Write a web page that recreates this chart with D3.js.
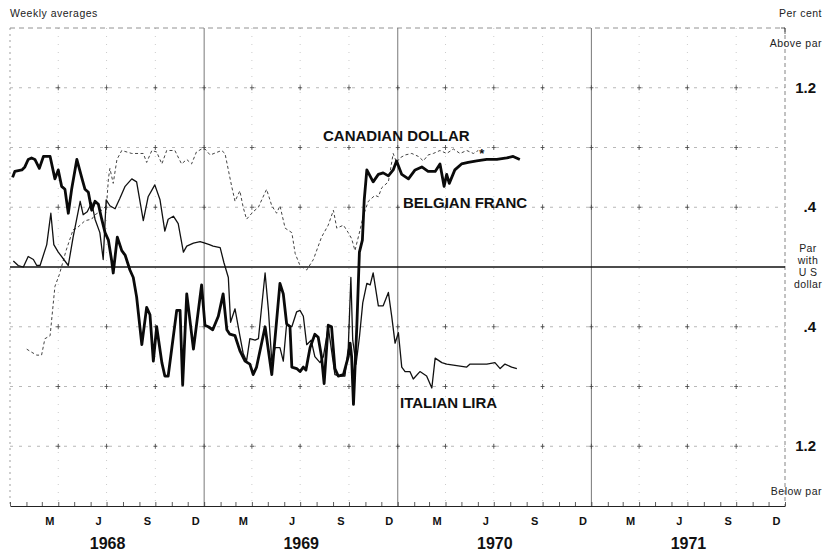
<!DOCTYPE html>
<html><head><meta charset="utf-8">
<script src="https://cdn.jsdelivr.net/npm/d3@7"></script>
<style>
body{margin:0;background:#fff;}
svg{display:block;font-family:"Liberation Sans",Arial,Helvetica,sans-serif;}
</style></head><body>
<svg id="c" width="830" height="551"></svg>
<script>
// [week since 1 Jan 1968, per cent deviation from par]
const belgianFranc = [[0.7,0.60],[1.3,0.64],[3.2,0.65],[4.0,0.67],[4.9,0.72],[5.8,0.73],[6.7,0.72],[7.9,0.66],[9.0,0.74],[10.8,0.74],[12.1,0.59],[13.0,0.65],[13.9,0.54],[14.8,0.52],[15.7,0.36],[16.6,0.52],[18.0,0.72],[19.3,0.60],[20.2,0.52],[21.1,0.50],[22.0,0.38],[22.9,0.44],[23.8,0.42],[24.7,0.32],[25.6,0.23],[26.5,0.18],[27.4,0.04],[27.8,-0.04],[28.9,0.20],[30.1,0.11],[31.0,0.08],[32.3,-0.02],[33.2,-0.07],[34.1,-0.20],[35.5,-0.52],[36.8,-0.27],[37.7,-0.32],[38.6,-0.63],[39.5,-0.40],[40.9,-0.64],[41.7,-0.73],[42.6,-0.73],[44.9,-0.29],[45.8,-0.29],[46.5,-0.79],[47.6,-0.18],[49.4,-0.55],[51.6,-0.12],[52.5,-0.39],[53.4,-0.40],[54.6,-0.42],[56.1,-0.33],[57.4,-0.18],[58.4,-0.42],[59.2,-0.45],[60.6,-0.46],[61.9,-0.56],[63.3,-0.63],[64.6,-0.65],[65.5,-0.72],[66.4,-0.67],[68.7,-0.40],[70.5,-0.72],[72.7,-0.11],[73.6,-0.18],[74.5,-0.38],[75.4,-0.40],[75.9,-0.67],[77.2,-0.68],[78.1,-0.70],[79.0,-0.67],[79.7,-0.69],[80.8,-0.54],[82.1,-0.45],[83.0,-0.47],[83.9,-0.60],[84.6,-0.78],[85.7,-0.39],[86.6,-0.40],[87.5,-0.68],[88.4,-0.73],[89.8,-0.72],[91.1,-0.60],[91.6,-0.51],[92.0,-0.60],[92.5,-0.92],[93.4,-0.40],[94.1,0.10],[94.9,0.18],[95.4,0.45],[96.1,0.65],[97.8,0.57],[99.2,0.62],[100.5,0.63],[101.9,0.61],[103.2,0.65],[104.1,0.71],[105.5,0.62],[107.3,0.59],[109.1,0.65],[110.9,0.67],[112.6,0.64],[114.5,0.64],[115.8,0.69],[116.9,0.54],[117.6,0.62],[118.3,0.56],[119.8,0.65],[121.6,0.69],[123.4,0.70],[125.7,0.71],[128.4,0.72],[131.1,0.72],[133.8,0.73],[135.5,0.74],[137.3,0.72]];

const italianLira = [[0.9,0.04],[2.2,0.01],[3.6,0.00],[4.9,0.07],[6.3,0.05],[7.2,0.01],[8.1,0.01],[9.9,0.15],[11.0,0.36],[11.8,0.15],[13.0,0.10],[15.7,0.01],[17.0,0.20],[18.9,0.44],[19.7,0.35],[20.8,0.37],[22.0,0.43],[22.9,0.32],[24.2,0.23],[25.1,0.05],[25.9,0.45],[26.9,0.41],[28.3,0.39],[29.6,0.46],[31.0,0.54],[32.8,0.59],[34.1,0.57],[35.9,0.31],[37.2,0.47],[39.0,0.55],[40.4,0.45],[41.7,0.24],[42.6,0.32],[44.0,0.34],[45.3,0.29],[46.7,0.10],[47.6,0.14],[49.4,0.16],[51.2,0.17],[52.5,0.16],[53.7,0.15],[54.7,0.14],[56.6,0.13],[57.6,0.03],[58.8,-0.07],[59.4,-0.37],[60.6,-0.28],[61.9,-0.46],[62.8,-0.58],[63.7,-0.63],[64.6,-0.48],[66.0,-0.49],[66.9,-0.48],[68.7,-0.04],[69.6,-0.29],[70.5,-0.63],[71.4,-0.54],[72.7,-0.54],[73.6,-0.63],[74.5,-0.38],[75.9,-0.40],[77.2,-0.30],[78.1,-0.29],[79.0,-0.33],[79.9,-0.52],[81.1,-0.49],[82.1,-0.60],[83.5,-0.64],[84.4,-0.60],[85.7,-0.40],[86.6,-0.56],[87.5,-0.72],[88.9,-0.73],[90.2,-0.73],[91.1,-0.54],[91.8,-0.07],[92.3,-0.49],[93.2,-0.65],[94.1,-0.47],[95.0,-0.24],[96.1,-0.11],[97.0,-0.12],[97.8,-0.04],[99.2,-0.26],[100.5,-0.26],[101.9,-0.17],[102.8,-0.33],[103.7,-0.51],[104.6,-0.44],[105.5,-0.67],[106.4,-0.70],[107.7,-0.70],[108.6,-0.75],[110.4,-0.70],[112.2,-0.73],[113.6,-0.81],[114.5,-0.61],[116.3,-0.64],[117.6,-0.65],[120.3,-0.66],[123.0,-0.67],[123.9,-0.65],[126.6,-0.65],[128.4,-0.65],[130.6,-0.64],[132.0,-0.68],[133.3,-0.65],[135.1,-0.67],[136.5,-0.68]];

const canadianDollar = [[4.5,-0.55],[5.8,-0.57],[7.2,-0.59],[8.5,-0.59],[9.4,-0.48],[10.8,-0.46],[12.1,-0.13],[13.3,-0.05],[15.1,0.11],[17.0,0.25],[18.0,0.26],[20.2,0.31],[22.0,0.32],[22.9,0.35],[24.2,0.37],[26.0,0.41],[26.5,0.59],[26.9,0.66],[27.8,0.56],[28.8,0.72],[30.1,0.78],[32.8,0.76],[35.9,0.76],[36.8,0.70],[38.2,0.78],[39.5,0.77],[40.9,0.69],[42.2,0.78],[44.4,0.78],[46.2,0.69],[47.6,0.72],[48.9,0.69],[50.2,0.77],[51.6,0.79],[52.5,0.79],[53.9,0.75],[57.0,0.78],[57.9,0.76],[58.8,0.65],[59.7,0.54],[60.6,0.44],[61.9,0.51],[62.8,0.40],[63.7,0.32],[65.5,0.37],[66.9,0.40],[67.8,0.45],[69.1,0.52],[70.5,0.41],[71.8,0.36],[72.7,0.41],[74.1,0.26],[75.9,0.23],[76.8,0.09],[78.1,0.01],[79.9,-0.02],[81.7,0.05],[83.9,0.20],[85.7,0.28],[87.1,0.38],[88.0,0.26],[89.8,0.28],[91.1,0.23],[92.0,0.19],[92.9,0.11],[94.3,0.25],[95.1,0.34],[96.5,0.44],[97.4,0.46],[98.3,0.48],[99.2,0.47],[100.1,0.53],[101.9,0.57],[103.2,0.76],[104.1,0.70],[105.0,0.73],[106.4,0.75],[108.2,0.76],[110.0,0.74],[111.3,0.71],[112.6,0.75],[114.0,0.76],[115.8,0.78],[117.6,0.76],[119.4,0.79],[121.2,0.76],[123.0,0.78],[124.8,0.76],[126.1,0.78]];

const years = [1968, 1969, 1970, 1971];
const monthLabels = ["M", "J", "S", "D"];
const labelMonths = [2, 5, 8, 11];
const gridValues = [-1.2, -0.8, -0.4, 0.4, 0.8, 1.2];
const rightTickValues = [1.2, 0.4, -0.4, -1.2];
const rightTickLabels = ["1.2", ".4", ".4", "1.2"];

const svg = d3.select("#c");
const L = 10, R = 785, T = 28, B = 506;
const start = new Date(Date.UTC(1968, 0, 1));
const end = new Date(Date.UTC(1972, 0, 1));
const x = d3.scaleUtc().domain([start, end]).range([L, R]);
const y = d3.scaleLinear().domain([-1.6, 1.6]).range([B, T]);
const weekDate = w => new Date(start.getTime() + w * 7 * 86400000);

// grid
const g = svg.append("g");
const quarters = d3.utcMonth.every(3).range(start, end).filter(d => d.getUTCMonth() !== 0);
const yearLines = d3.utcYear.range(d3.utcYear.offset(start, 1), end);

g.selectAll(".hg").data(gridValues).join("line")
  .attr("x1", L).attr("x2", R).attr("y1", d => y(d)).attr("y2", d => y(d))
  .attr("stroke", "#999").attr("stroke-width", 0.7).attr("stroke-dasharray", "3,6");
g.selectAll(".qg").data(quarters).join("line")
  .attr("x1", d => x(d)).attr("x2", d => x(d)).attr("y1", T).attr("y2", B)
  .attr("stroke", "#aaa").attr("stroke-width", 0.6).attr("stroke-dasharray", "1,7");
g.selectAll(".yg").data(yearLines).join("line")
  .attr("x1", d => x(d)).attr("x2", d => x(d)).attr("y1", T).attr("y2", B)
  .attr("stroke", "#555").attr("stroke-width", 0.8);
// plot edges
g.append("line").attr("x1", L).attr("x2", L).attr("y1", T).attr("y2", B)
  .attr("stroke", "#777").attr("stroke-width", 0.7).attr("stroke-dasharray", "2,4");
g.append("line").attr("x1", R).attr("x2", R).attr("y1", T).attr("y2", B)
  .attr("stroke", "#666").attr("stroke-width", 0.8).attr("stroke-dasharray", "4,3");
g.append("line").attr("x1", L).attr("x2", R).attr("y1", T).attr("y2", T)
  .attr("stroke", "#777").attr("stroke-width", 0.8).attr("stroke-dasharray", "5,4");
g.append("line").attr("x1", R - 4).attr("x2", R).attr("y1", T).attr("y2", T)
  .attr("stroke", "#333").attr("stroke-width", 0.8);
g.append("line").attr("x1", R).attr("x2", R).attr("y1", T).attr("y2", T + 6)
  .attr("stroke", "#333").attr("stroke-width", 0.8);

// small crosses at grid intersections
const crossX = quarters.concat(yearLines);
const crosses = [];
crossX.forEach(d => gridValues.forEach(v => crosses.push([d, v])));
g.selectAll(".cr").data(crosses).join("path")
  .attr("d", d => `M${x(d[0]) - 2},${y(d[1])}h4M${x(d[0])},${y(d[1]) - 2.5}v5`)
  .attr("stroke", "#444").attr("stroke-width", 0.8);

// par line
g.append("line").attr("x1", L).attr("x2", R).attr("y1", y(0)).attr("y2", y(0))
  .attr("stroke", "#111").attr("stroke-width", 1.3);

// bottom axis with monthly ticks
const axis = svg.append("g").attr("transform", `translate(0,${B})`)
  .call(d3.axisBottom(x).tickValues(d3.utcMonth.range(start, d3.utcDay.offset(end, 1)))
    .tickSize(-4).tickSizeOuter(0).tickFormat(""));
axis.select(".domain").attr("stroke", "#222").attr("stroke-width", 1);
axis.selectAll(".tick line").attr("stroke", "#333").attr("stroke-width", 0.8);

// month labels
const midMonths = [];
years.forEach(yr => labelMonths.forEach(m => midMonths.push(new Date(Date.UTC(yr, m, 15)))));
const mAxis = svg.append("g").attr("transform", `translate(0,${B + 8})`)
  .call(d3.axisBottom(x).tickValues(midMonths).tickSize(0)
    .tickFormat(d => monthLabels[labelMonths.indexOf(d.getUTCMonth())]));
mAxis.select(".domain").remove();
mAxis.selectAll("text").attr("font-size", 11).attr("font-weight", "bold")
  .attr("fill", "#111").attr("font-family", "Liberation Sans, Arial, sans-serif");

// year labels
const yAxisYears = svg.append("g").attr("transform", `translate(0,${B + 29})`)
  .call(d3.axisBottom(x).tickValues(years.map(yr => new Date(Date.UTC(yr, 6, 2)))).tickSize(0)
    .tickFormat(d => d.getUTCFullYear()));
yAxisYears.select(".domain").remove();
yAxisYears.selectAll("text").attr("font-size", 16).attr("font-weight", "bold")
  .attr("fill", "#111").attr("font-family", "Liberation Sans, Arial, sans-serif");

// right value labels
svg.selectAll(".rl").data(rightTickValues).join("text")
  .attr("x", 816).attr("y", d => y(d) + 5).attr("text-anchor", "end")
  .attr("font-size", 15).attr("font-weight", "bold").attr("fill", "#111")
  .text((d, i) => rightTickLabels[i]);

// side texts
const small = (t, xx, yy, anchor) => svg.append("text").attr("x", xx).attr("y", yy)
  .attr("text-anchor", anchor).attr("font-size", 10.5).attr("letter-spacing", 0.5)
  .attr("fill", "#222").text(t);
small("Weekly averages", 10, 17, "start");
small("Per cent", 822, 17, "end");
small("Above par", 822, 47, "end");
small("Below par", 822, 495, "end");
["Par", "with", "U S", "dollar"].forEach((t, i) =>
  svg.append("text").attr("x", 808).attr("y", 252 + i * 12).attr("text-anchor", "middle")
    .attr("font-size", 10.5).attr("letter-spacing", 0.4).attr("fill", "#222").text(t));

// series
const line = d3.line().x(d => x(weekDate(d[0]))).y(d => y(d[1]));
svg.append("path").datum(canadianDollar).attr("d", line).attr("fill", "none")
  .attr("stroke", "#444").attr("stroke-width", 1).attr("stroke-dasharray", "3,2.5");
svg.append("path").datum(italianLira).attr("d", line).attr("fill", "none")
  .attr("stroke", "#111").attr("stroke-width", 1.3).attr("stroke-linejoin", "round");
svg.append("path").datum(belgianFranc).attr("d", line).attr("fill", "none")
  .attr("stroke", "#0a0a0a").attr("stroke-width", 2.8).attr("stroke-linejoin", "round");

const lastC = canadianDollar[canadianDollar.length - 1];
svg.append("text").attr("x", x(weekDate(lastC[0])) + 1).attr("y", y(lastC[1]) + 8)
  .attr("font-size", 13).attr("font-weight", "bold").attr("fill", "#111").text("*");

// series labels
const lab = (t, xx, yy) => svg.append("text").attr("x", xx).attr("y", yy)
  .attr("font-size", 15).attr("font-weight", "bold").attr("fill", "#111").text(t);
lab("CANADIAN DOLLAR", 323, 141);
lab("BELGIAN FRANC", 403, 208);
lab("ITALIAN LIRA", 400, 408);
</script>
</body></html>
